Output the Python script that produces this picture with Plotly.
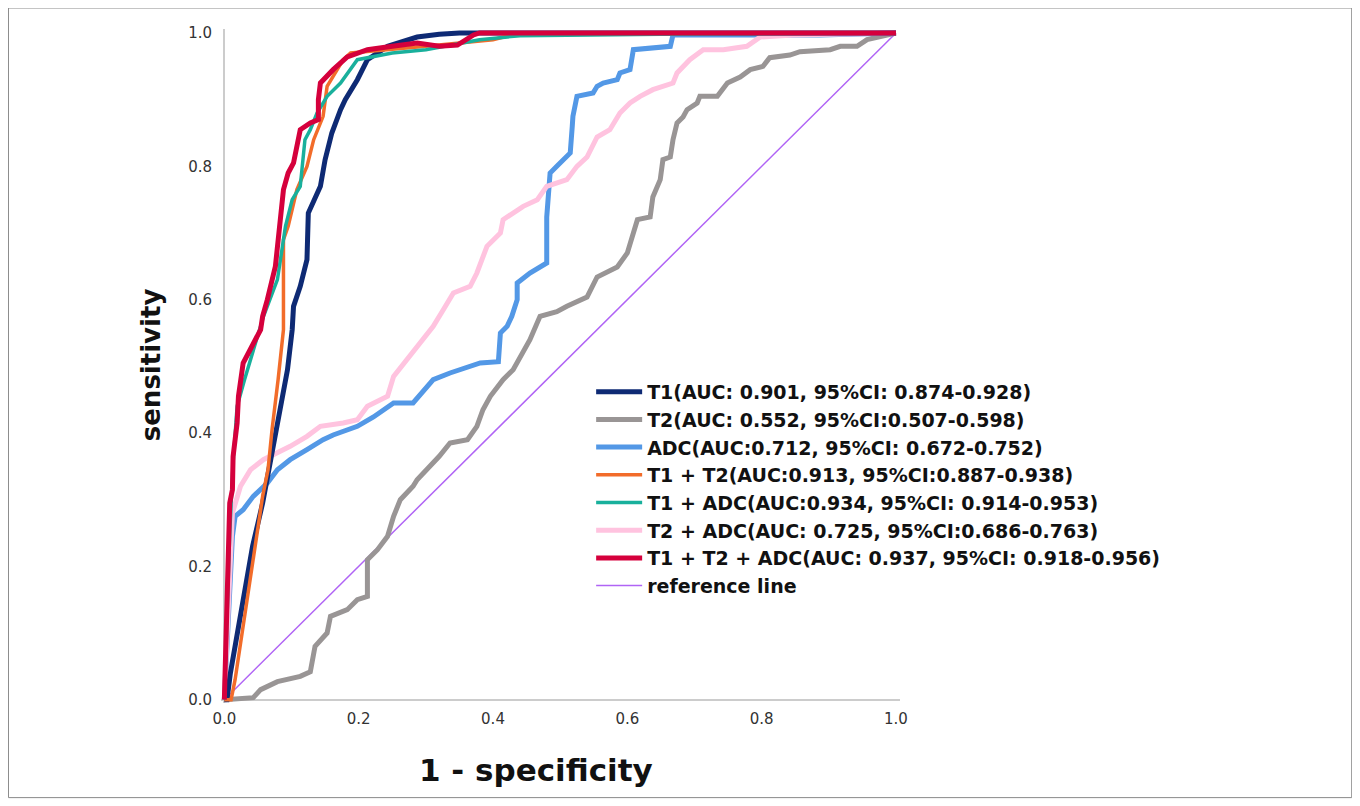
import plotly.graph_objects as go

# ---------------- data ----------------
t1_fpr = [0, 0.004, 0.009, 0.024, 0.042, 0.057, 0.068, 0.080, 0.094, 0.101, 0.103, 0.113, 0.123, 0.125,
          0.143, 0.150, 0.160, 0.173, 0.180, 0.198, 0.213, 0.243, 0.287, 0.320, 0.35, 1.0]
t1_tpr = [0, 0.0, 0.04, 0.13, 0.23, 0.295, 0.355, 0.424, 0.495, 0.555, 0.59, 0.62, 0.66, 0.73,
          0.77, 0.81, 0.85, 0.885, 0.90, 0.93, 0.96, 0.98, 0.994, 0.998, 1.0, 1.0]

t2_fpr = [0, 0.043, 0.054, 0.079, 0.113, 0.128, 0.135, 0.153, 0.158, 0.183, 0.198, 0.213, 0.213, 0.228,
          0.243, 0.252, 0.262, 0.281, 0.287, 0.320, 0.336, 0.362, 0.376, 0.385, 0.396, 0.415, 0.430,
          0.445, 0.455, 0.470, 0.495, 0.510, 0.540, 0.555, 0.585, 0.600, 0.615, 0.634, 0.638, 0.649,
          0.653, 0.664, 0.668, 0.674, 0.683, 0.689, 0.704, 0.708, 0.734, 0.749, 0.768, 0.783, 0.802,
          0.812, 0.842, 0.857, 0.902, 0.917, 0.942, 0.957, 0.987, 1.0]
t2_tpr = [0, 0.003, 0.015, 0.027, 0.035, 0.042, 0.08, 0.10, 0.125, 0.135, 0.15, 0.155, 0.21, 0.225,
          0.245, 0.275, 0.30, 0.32, 0.33, 0.365, 0.385, 0.39, 0.41, 0.435, 0.455, 0.48, 0.495,
          0.52, 0.54, 0.575, 0.582, 0.59, 0.604, 0.634, 0.649, 0.67, 0.72, 0.724, 0.754, 0.78,
          0.81, 0.814, 0.84, 0.865, 0.874, 0.885, 0.895, 0.905, 0.905, 0.925, 0.934, 0.945, 0.95,
          0.963, 0.967, 0.972, 0.975, 0.98, 0.98, 0.99, 0.997, 1.0]

adc_fpr = [0, 0.010, 0.012, 0.016, 0.028, 0.043, 0.064, 0.079, 0.098, 0.123, 0.147, 0.162, 0.198, 0.222,
           0.252, 0.281, 0.311, 0.336, 0.351, 0.381, 0.408, 0.411, 0.421, 0.428, 0.436, 0.436, 0.455,
           0.470, 0.480, 0.480, 0.485, 0.495, 0.504, 0.515, 0.518, 0.519, 0.525, 0.549, 0.555, 0.564,
           0.585, 0.589, 0.604, 0.609, 0.664, 0.668, 0.787, 0.887, 1.0]
adc_tpr = [0, 0.20, 0.245, 0.275, 0.285, 0.305, 0.325, 0.345, 0.36, 0.375, 0.39, 0.397, 0.41, 0.424,
           0.445, 0.445, 0.48, 0.49, 0.495, 0.505, 0.507, 0.55, 0.56, 0.575, 0.60, 0.625, 0.64,
           0.649, 0.655, 0.724, 0.79, 0.80, 0.81, 0.82, 0.86, 0.875, 0.905, 0.91, 0.92, 0.925,
           0.93, 0.94, 0.945, 0.975, 0.98, 0.997, 0.997, 0.997, 1.0]

t1t2_fpr = [0, 0.010, 0.016, 0.031, 0.046, 0.057, 0.065, 0.071, 0.080, 0.086, 0.088, 0.088, 0.095, 0.108,
            0.123, 0.133, 0.147, 0.153, 0.177, 0.188, 0.25, 0.30, 0.40, 0.42, 0.45, 1.0]
t1t2_tpr = [0, 0.0, 0.03, 0.13, 0.23, 0.305, 0.345, 0.405, 0.48, 0.54, 0.555, 0.69, 0.71, 0.765,
            0.80, 0.84, 0.875, 0.92, 0.96, 0.97, 0.975, 0.98, 0.99, 0.995, 1.0, 1.0]

t1adc_fpr = [0, 0.008, 0.013, 0.019, 0.030, 0.045, 0.058, 0.079, 0.091, 0.101, 0.113, 0.120, 0.128, 0.138,
             0.153, 0.173, 0.198, 0.25, 0.30, 0.38, 0.44, 0.65, 1.0]
t1adc_tpr = [0, 0.25, 0.355, 0.44, 0.48, 0.53, 0.574, 0.63, 0.71, 0.75, 0.77, 0.84, 0.855, 0.88,
             0.905, 0.925, 0.96, 0.97, 0.975, 0.99, 0.996, 0.998, 1.0]

t2adc_fpr = [0, 0.010, 0.012, 0.024, 0.039, 0.058, 0.079, 0.098, 0.123, 0.143, 0.177, 0.198, 0.213, 0.243,
             0.252, 0.272, 0.292, 0.311, 0.326, 0.341, 0.366, 0.376, 0.391, 0.411, 0.415, 0.445, 0.466,
             0.480, 0.510, 0.525, 0.540, 0.555, 0.574, 0.589, 0.604, 0.619, 0.638, 0.668, 0.674, 0.693,
             0.713, 0.743, 0.778, 0.798, 0.847, 1.0]
t2adc_tpr = [0, 0.22, 0.28, 0.32, 0.345, 0.36, 0.37, 0.38, 0.395, 0.41, 0.415, 0.42, 0.44, 0.455,
             0.485, 0.51, 0.535, 0.56, 0.585, 0.61, 0.62, 0.64, 0.68, 0.70, 0.72, 0.74, 0.75,
             0.77, 0.78, 0.80, 0.814, 0.844, 0.855, 0.88, 0.895, 0.905, 0.915, 0.925, 0.94, 0.96,
             0.975, 0.975, 0.98, 0.994, 0.997, 1.0]

all3_fpr = [0, 0.003, 0.008, 0.012, 0.013, 0.019, 0.021, 0.028, 0.039, 0.054, 0.057, 0.064, 0.076, 0.083,
            0.088, 0.095, 0.103, 0.113, 0.128, 0.140, 0.140, 0.143, 0.162, 0.183, 0.213, 0.250, 0.287,
            0.320, 0.347, 0.371, 0.380, 1.0]
all3_tpr = [0, 0.10, 0.295, 0.315, 0.365, 0.415, 0.455, 0.505, 0.525, 0.555, 0.575, 0.60, 0.65, 0.725,
            0.765, 0.79, 0.805, 0.855, 0.865, 0.87, 0.90, 0.925, 0.945, 0.964, 0.975, 0.98, 0.985,
            0.98, 0.982, 0.997, 1.0, 1.0]

ref_fpr = [0, 1]
ref_tpr = [0, 1]

names = [
    "T1(AUC: 0.901, 95%CI: 0.874-0.928)",
    "T2(AUC: 0.552, 95%CI:0.507-0.598)",
    "ADC(AUC:0.712, 95%CI: 0.672-0.752)",
    "T1 + T2(AUC:0.913, 95%CI:0.887-0.938)",
    "T1 + ADC(AUC:0.934, 95%CI: 0.914-0.953)",
    "T2 + ADC(AUC: 0.725, 95%CI:0.686-0.763)",
    "T1 + T2 + ADC(AUC: 0.937, 95%CI: 0.918-0.956)",
    "reference line",
]
tick_vals = [0.0, 0.2, 0.4, 0.6, 0.8, 1.0]
tick_text = ["0.0", "0.2", "0.4", "0.6", "0.8", "1.0"]
x_title = "1 - specificity"
y_title = "sensitivity"

# ---------------- figure ----------------
series = [
    (t2_fpr, t2_tpr, names[1], "#999595", 5),
    (adc_fpr, adc_tpr, names[2], "#5398e6", 5),
    (t2adc_fpr, t2adc_tpr, names[5], "#ffc3df", 5),
    (t1_fpr, t1_tpr, names[0], "#0e2a74", 5),
    (t1t2_fpr, t1t2_tpr, names[3], "#f26c2a", 3.5),
    (t1adc_fpr, t1adc_tpr, names[4], "#19b09c", 3.5),
    (all3_fpr, all3_tpr, names[6], "#d5003c", 5),
]
rank = {n: i for i, n in enumerate(names)}

fig = go.Figure()
fig.add_trace(go.Scatter(x=ref_fpr, y=ref_tpr, mode="lines", name=names[7],
                         line=dict(color="#b064f5", width=1.5), legendrank=100 + rank[names[7]]))
for xs, ys, nm, col, w in series:
    fig.add_trace(go.Scatter(x=xs, y=ys, mode="lines", name=nm,
                             line=dict(color=col, width=w), legendrank=100 + rank[nm]))

OFF = 8  # page body margin of the browser
W, H = 1360 - OFF, 806 - OFF
xr = [-0.005, 1.006]
yr = [-0.005, 1.006]
px_per_x = 672
px_per_y = 667
x0_scr, y0_scr, y1_scr = 224, 700, 33   # screen px of x=0, y=0, y=1
left = (x0_scr - OFF) + xr[0] * px_per_x
plot_w = (xr[1] - xr[0]) * px_per_x
top = (y1_scr - OFF) - (yr[1] - 1) * px_per_y
plot_h = (yr[1] - yr[0]) * px_per_y
bottom = H - top - plot_h


def px2paper_x(sx):
    return (sx - OFF - left) / plot_w


def py2paper_y(sy):
    return (H - (sy - OFF) - bottom) / plot_h


fig.update_layout(
    width=W, height=H,
    margin=dict(l=left, r=W - left - plot_w, t=top, b=bottom, pad=0),
    paper_bgcolor="white", plot_bgcolor="white",
    font=dict(family="DejaVu Sans", color="#222"),
    showlegend=True,
    legend=dict(x=px2paper_x(591), y=py2paper_y(373), xanchor="left", yanchor="top",
                font=dict(size=19, color="#111", family="DejaVu Sans", weight="bold"),
                bgcolor="rgba(0,0,0,0)", itemwidth=46, tracegroupgap=0),
)
fig.update_xaxes(range=xr, tickvals=tick_vals, ticktext=tick_text, showgrid=False,
                 zeroline=True, zerolinecolor="#cccccc", zerolinewidth=2, showline=False,
                 ticks="", tickfont=dict(size=15, color="#333"), ticklabelstandoff=5)
fig.update_yaxes(range=yr, tickvals=tick_vals, ticktext=tick_text, showgrid=False,
                 zeroline=True, zerolinecolor="#cccccc", zerolinewidth=2, showline=False,
                 ticks="", tickfont=dict(size=15, color="#333"), ticklabelstandoff=8)

fig.add_annotation(text="<b>" + x_title + "</b>", xref="paper", yref="paper",
                   x=px2paper_x(536), y=py2paper_y(770), xanchor="center", yanchor="middle",
                   showarrow=False, font=dict(size=31, color="#111", family="DejaVu Sans"))
fig.add_annotation(text="<b>" + y_title + "</b>", xref="paper", yref="paper",
                   x=px2paper_x(150), y=py2paper_y(365), xanchor="center", yanchor="middle",
                   textangle=-90, showarrow=False,
                   font=dict(size=26, color="#111", family="DejaVu Sans"))

# frame around the whole figure
fig.add_shape(type="rect", xref="paper", yref="paper",
              x0=px2paper_x(8), x1=px2paper_x(1352),
              y0=py2paper_y(798), y1=py2paper_y(8),
              line=dict(color="#8a8a8a", width=1), fillcolor="rgba(0,0,0,0)", layer="below")

fig.write_html("out.html")
